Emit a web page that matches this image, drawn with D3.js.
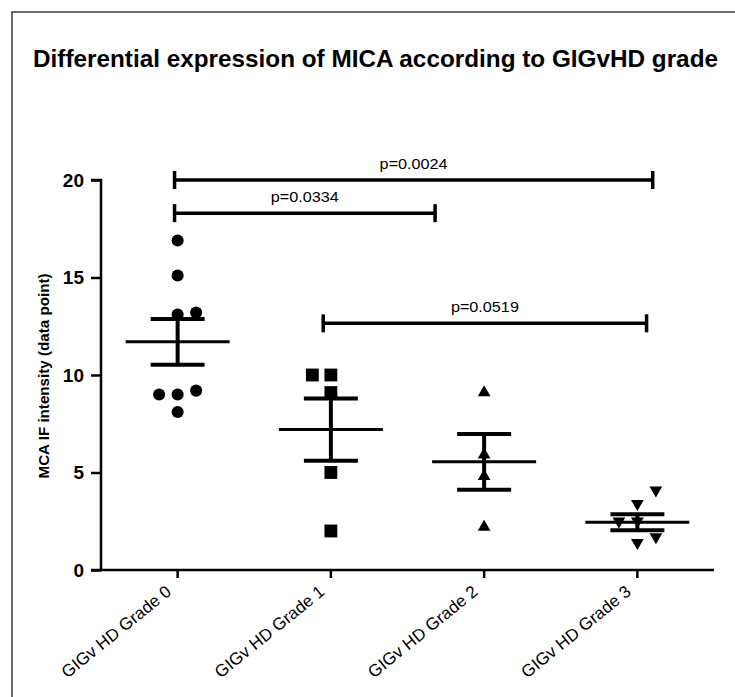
<!DOCTYPE html>
<html>
<head>
<meta charset="utf-8">
<script src="https://cdn.jsdelivr.net/npm/d3@7"></script>
<style>
  body { margin: 0; background: #fff; }
  text { font-family: "Liberation Sans", Arial, sans-serif; fill: #000; }
</style>
</head>
<body>
<svg id="chart" width="735" height="697"></svg>
<script>
// ---- data ----
const title = "Differential expression of MICA according to GIGvHD grade";
const yTitle = "MCA IF intensity (data point)";
const categories = ["GIGv HD Grade 0", "GIGv HD Grade 1", "GIGv HD Grade 2", "GIGv HD Grade 3"];
const grade0 = [16.9, 15.1, 13.1, 13.2, 9.0, 9.0, 9.2, 8.1];
const grade1 = [10.0, 10.0, 9.1, 5.0, 2.0];
const grade2 = [9.1, 5.9, 4.8, 2.2];
const grade3 = [3.4, 4.1, 2.5, 2.5, 1.4, 1.7];
const groupMeans = [11.7, 7.2, 5.55, 2.45];
const groupSEM = [1.17, 1.6, 1.43, 0.41];
const yTicks = [0, 5, 10, 15, 20];
// significance brackets: span on the category axis, height in data units
const bracketLabels = ["p=0.0024", "p=0.0334", "p=0.0519"];
const bracketFrom = [-0.02, -0.02, 0.95];
const bracketTo = [3.1, 1.68, 3.06];
const bracketLevel = [20.0, 18.3, 12.65];

const groups = [grade0, grade1, grade2, grade3];
const markerTypes = [d3.symbolCircle, d3.symbolSquare, d3.symbolTriangle, d3.symbolTriangle];

// ---- layout ----
const svg = d3.select("#chart");
const plot = { left: 101, right: 714, top: 180, bottom: 570 };

const x = d3.scaleLinear().domain([-0.5, categories.length - 0.5]).range([plot.left, plot.right]);
const y = d3.scaleLinear().domain([0, 20]).range([plot.bottom, plot.top]);

// outer frame
svg.append("path")
  .attr("d", "M12,697V12H735")
  .attr("fill", "none")
  .attr("stroke", "#3a3a3a")
  .attr("stroke-width", 1.5);

// title
svg.append("text")
  .attr("x", 375.5).attr("y", 67)
  .attr("text-anchor", "middle")
  .attr("font-size", 24).attr("font-weight", "bold")
  .attr("textLength", 685).attr("lengthAdjust", "spacingAndGlyphs")
  .text(title);

// y axis
const yAxis = d3.axisLeft(y).tickValues(yTicks).tickSize(10).tickPadding(7).tickFormat(d3.format("d"));
const gy = svg.append("g").attr("transform", `translate(${plot.left},0)`).call(yAxis);
gy.select(".domain").attr("d", `M-10,${plot.top}H0V${plot.bottom}H-10`).attr("stroke", "#000").attr("stroke-width", 2.5);
gy.selectAll(".tick line").attr("stroke", "#000").attr("stroke-width", 2.5);
gy.selectAll(".tick text")
  .attr("font-family", "'Liberation Sans', Arial, sans-serif")
  .attr("font-size", 19).attr("font-weight", "bold").attr("fill", "#000");

svg.append("text")
  .attr("transform", `translate(49,${(plot.top + plot.bottom) / 2 + 1}) rotate(-90)`)
  .attr("text-anchor", "middle")
  .attr("font-size", 14).attr("font-weight", "bold")
  .attr("textLength", 205).attr("lengthAdjust", "spacingAndGlyphs")
  .text(yTitle);

// x axis
const gx = svg.append("g").attr("transform", `translate(0,${plot.bottom})`);
gx.append("line")
  .attr("x1", plot.left).attr("x2", plot.right)
  .attr("stroke", "#000").attr("stroke-width", 2.5);
gx.selectAll("line.tick").data(categories).join("line")
  .attr("class", "tick")
  .attr("x1", (d, i) => x(i)).attr("x2", (d, i) => x(i))
  .attr("y1", 0).attr("y2", 8)
  .attr("stroke", "#000").attr("stroke-width", 2.5);
gx.selectAll("text").data(categories).join("text")
  .attr("transform", (d, i) => `translate(${x(i) - 9},${19}) rotate(-39)`)
  .attr("text-anchor", "end")
  .attr("dy", "0.35em")
  .attr("font-size", 17)
  .text(d => d);

// points: overlapping values are nudged sideways, alternating right / left
const slotWidth = 18.5;
const markerSize = 14;
let nudgeCount = 0;
groups.forEach((vals, gi) => {
  const placed = [];
  vals.forEach(v => {
    const py = y(v);
    let slot = 0;
    const hit = s => placed.some(p => p.slot === s && Math.abs(p.py - py) < markerSize);
    if (hit(0)) {
      const first = nudgeCount % 2 === 0 ? 1 : -1;
      slot = !hit(first) ? first : (!hit(-first) ? -first : 2 * first);
      nudgeCount++;
    }
    placed.push({ slot, py, v });
  });
  const sym = d3.symbol().type(markerTypes[gi]).size(gi === 0 ? 115 : gi === 1 ? 165 : 70);
  svg.append("g").selectAll("path").data(placed).join("path")
    .attr("d", sym)
    .attr("transform", p => `translate(${x(gi) + p.slot * slotWidth},${p.py})${gi === 3 ? " rotate(180)" : ""}`)
    .attr("fill", "#000");
});

// mean and SEM bars
const stats = svg.append("g").attr("stroke", "#000");
categories.forEach((c, i) => {
  const cx = x(i);
  const m = groupMeans[i], s = groupSEM[i];
  stats.append("line").attr("x1", cx - 52).attr("x2", cx + 52)
    .attr("y1", y(m)).attr("y2", y(m)).attr("stroke-width", 3);
  stats.append("line").attr("x1", cx).attr("x2", cx)
    .attr("y1", y(m + s)).attr("y2", y(m - s)).attr("stroke-width", 4);
  [m + s, m - s].forEach(v => {
    stats.append("line").attr("x1", cx - 27).attr("x2", cx + 27)
      .attr("y1", y(v)).attr("y2", y(v)).attr("stroke-width", 4);
  });
});

// significance brackets
const br = svg.append("g");
bracketLabels.forEach((lab, i) => {
  const x0 = x(bracketFrom[i]), x1 = x(bracketTo[i]), by = y(bracketLevel[i]);
  br.append("line").attr("x1", x0).attr("x2", x1).attr("y1", by).attr("y2", by)
    .attr("stroke", "#000").attr("stroke-width", 3.5);
  [x0, x1].forEach(xx => {
    br.append("line").attr("x1", xx).attr("x2", xx).attr("y1", by - 9).attr("y2", by + 9)
      .attr("stroke", "#000").attr("stroke-width", 3.5);
  });
  br.append("text")
    .attr("x", (x0 + x1) / 2).attr("y", by - 11)
    .attr("text-anchor", "middle")
    .attr("font-size", 15)
    .attr("textLength", 68).attr("lengthAdjust", "spacingAndGlyphs")
    .text(lab);
});
</script>
</body>
</html>
